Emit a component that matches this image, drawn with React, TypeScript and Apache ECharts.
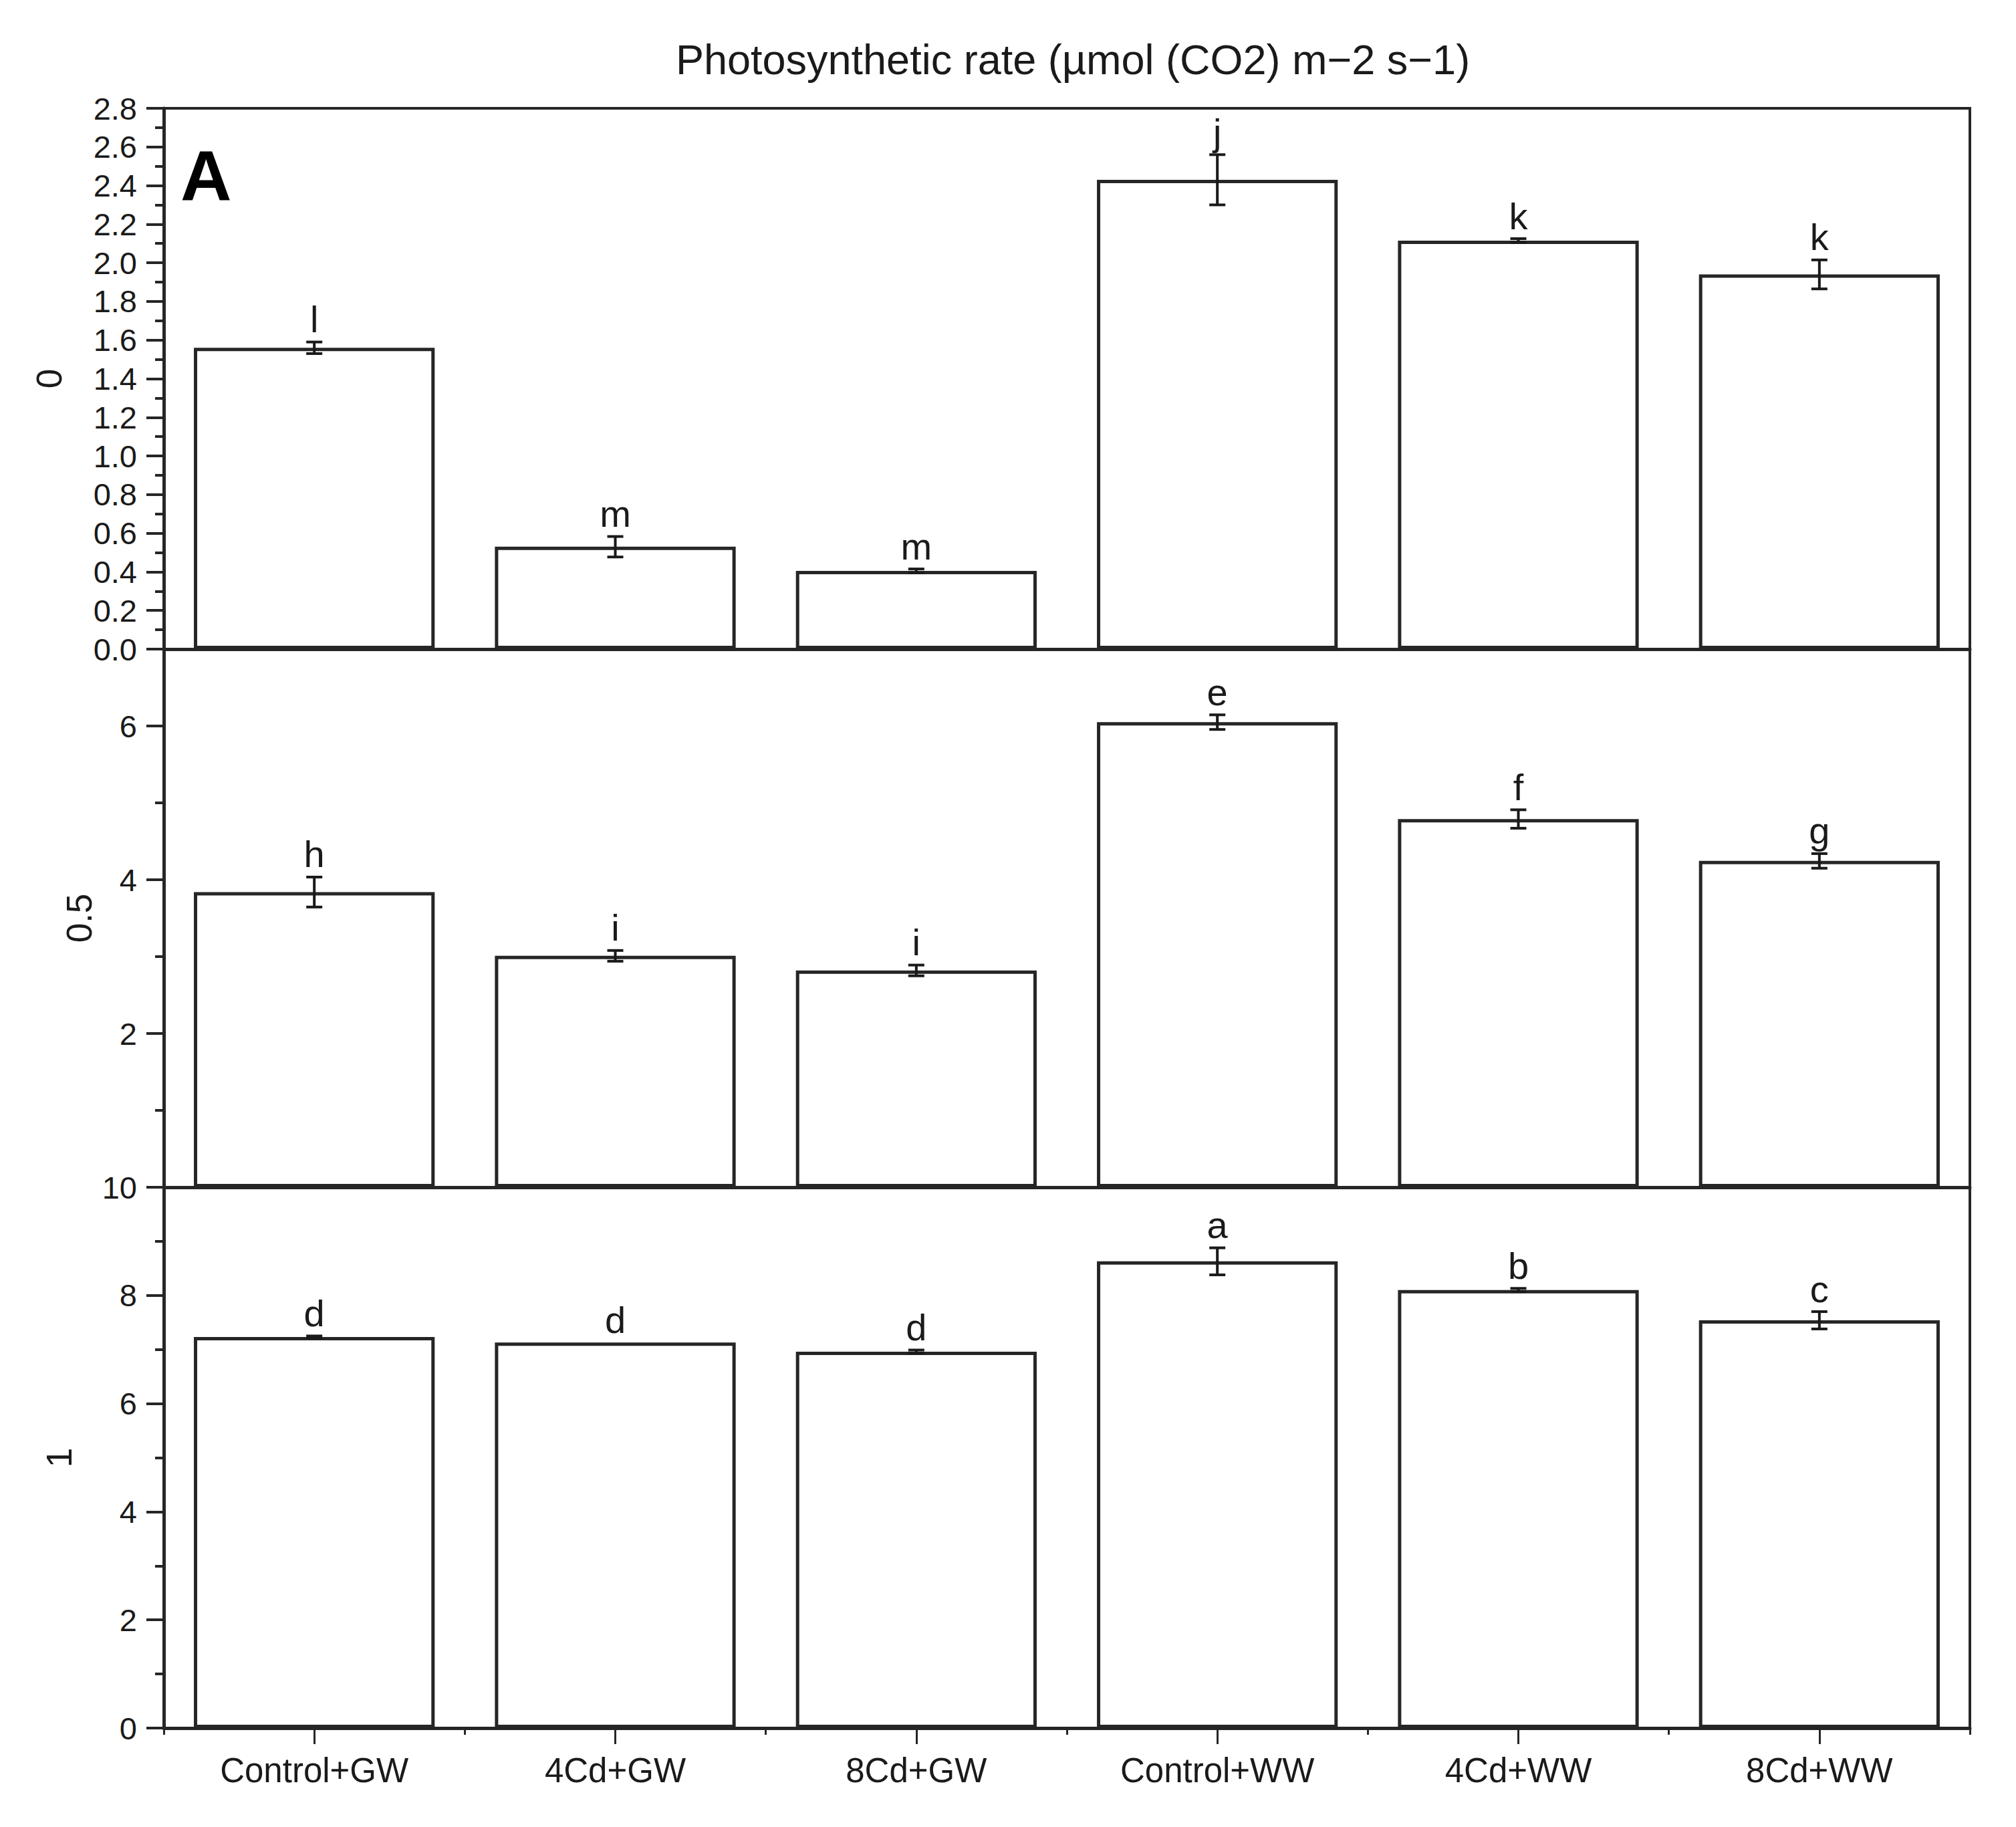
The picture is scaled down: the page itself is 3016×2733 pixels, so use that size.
import React, { useEffect, useRef } from "react";
import * as echarts from "echarts";

const categories = ["Control+GW", "4Cd+GW", "8Cd+GW", "Control+WW", "4Cd+WW", "8Cd+WW"];

const rate0 = [1.56, 0.53, 0.405, 2.43, 2.115, 1.94];
const err0 = [0.03, 0.053, 0.01, 0.13, 0.01, 0.075];
const letters0 = ["l", "m", "m", "j", "k", "k"];

const rate05 = [3.84, 3.01, 2.82, 6.05, 4.79, 4.245];
const err05 = [0.195, 0.07, 0.07, 0.095, 0.12, 0.095];
const letters05 = ["h", "i", "i", "e", "f", "g"];

const rate1 = [7.23, 7.13, 6.96, 8.63, 8.1, 7.54];
const err1 = [0.02, 0.0, 0.03, 0.25, 0.03, 0.16];
const letters1 = ["d", "d", "d", "a", "b", "c"];

const panelNames = ["0", "0.5", "1"];
const titleText = "Photosynthetic rate (\u00b5mol (CO2) m\u22122 s\u22121)";
const panelTag = "A";

const FONT = "'Liberation Sans', Arial, Helvetica, sans-serif";
const INK = "#262626";

export default function App() {
  const ref = useRef<HTMLDivElement>(null);

  useEffect(() => {
    document.body.style.margin = "0";
    const chart = echarts.init(ref.current!, undefined, { renderer: "svg" });

    const L = 245;
    const R = 3016 - 2947;
    const grids = [
      { top: 162, height: 809 },
      { top: 971, height: 805 },
      { top: 1776, height: 809 },
    ];

    const values = [rate0, rate05, rate1];
    const errs = [err0, err05, err1];
    const letters = [letters0, letters05, letters1];

    const grid = grids.map((g) => ({
      left: L,
      right: R,
      top: g.top,
      height: g.height,
      show: true,
      borderColor: INK,
      borderWidth: 4,
      backgroundColor: "transparent",
    }));

    const xAxis: any[] = [];
    for (let i = 0; i < 3; i++) {
      const bottom = i === 2;
      xAxis.push({
        type: "category",
        gridIndex: i,
        data: categories,
        boundaryGap: true,
        axisLine: { show: true, lineStyle: { color: INK, width: 5 } },
        axisTick: { show: bottom, alignWithLabel: true, length: 24, lineStyle: { color: INK, width: 3 } },
        axisLabel: {
          show: bottom,
          margin: 38,
          fontSize: 51,
          fontFamily: FONT,
          color: "#1a1a1a",
        },
        splitLine: { show: false },
      });
    }
    xAxis.push({
      type: "category",
      gridIndex: 2,
      data: categories,
      boundaryGap: true,
      position: "bottom",
      axisLine: { show: false },
      axisTick: { show: true, alignWithLabel: false, length: 10, lineStyle: { color: INK, width: 3 } },
      axisLabel: { show: false },
      splitLine: { show: false },
    });

    const labelFormatters = [
      (v: number) => v.toFixed(1),
      (v: number) => (v === 0 || v === 7 ? "" : String(v)),
      (v: number) => String(v),
    ];
    const ranges = [
      { max: 2.8, interval: 0.2, minor: 0.1 },
      { max: 7, interval: 2, minor: 1 },
      { max: 10, interval: 2, minor: 1 },
    ];
    const nameGaps = [145, 100, 130];

    const yAxis: any[] = [];
    for (let i = 0; i < 3; i++) {
      yAxis.push({
        type: "value",
        gridIndex: i,
        min: 0,
        max: ranges[i].max,
        interval: ranges[i].interval,
        name: panelNames[i],
        nameLocation: "middle",
        nameGap: nameGaps[i],
        nameTextStyle: { fontSize: 53, fontFamily: FONT, color: "#1a1a1a" },
        axisLine: { show: true, lineStyle: { color: INK, width: 5 } },
        axisTick: { show: true, inside: false, length: 26, lineStyle: { color: INK, width: 4 } },
        axisLabel: {
          show: true,
          margin: 40,
          fontSize: 47,
          fontFamily: FONT,
          color: "#1a1a1a",
          formatter: labelFormatters[i],
        },
        splitLine: { show: false },
      });
    }
    for (let i = 0; i < 3; i++) {
      yAxis.push({
        type: "value",
        gridIndex: i,
        min: 0,
        max: ranges[i].max,
        interval: ranges[i].minor,
        position: "left",
        axisLine: { show: false },
        axisTick: { show: true, inside: false, length: 13, lineStyle: { color: INK, width: 4 } },
        axisLabel: { show: false },
        splitLine: { show: false },
      });
    }

    const series: any[] = [];
    for (let i = 0; i < 3; i++) {
      series.push({
        type: "bar",
        xAxisIndex: i,
        yAxisIndex: i,
        data: values[i],
        barCategoryGap: "20%",
        itemStyle: { color: "#ffffff", borderColor: INK, borderWidth: 5 },
        silent: true,
        z: 2,
      });
      const vals = values[i];
      const es = errs[i];
      const ls = letters[i];
      series.push({
        type: "custom",
        xAxisIndex: i,
        yAxisIndex: i,
        data: vals.map((v, k) => [k, v, es[k]]),
        z: 5,
        silent: true,
        renderItem: (params: any, api: any) => {
          const k = params.dataIndex;
          const x = api.value(0);
          const v = api.value(1);
          const e = api.value(2);
          const top = api.coord([x, v + e]);
          const bot = api.coord([x, v - e]);
          const hw = 12;
          const st = { stroke: "#1a1a1a", lineWidth: 4 };
          const children: any[] = [];
          if (e > 0) {
            children.push({ type: "line", shape: { x1: top[0], y1: top[1], x2: bot[0], y2: bot[1] }, style: st });
            children.push({ type: "line", shape: { x1: top[0] - hw, y1: top[1], x2: top[0] + hw, y2: top[1] }, style: st });
            children.push({ type: "line", shape: { x1: bot[0] - hw, y1: bot[1], x2: bot[0] + hw, y2: bot[1] }, style: st });
          }
          children.push({
            type: "text",
            x: top[0],
            y: top[1] - 6,
            style: {
              text: ls[k],
              textAlign: "center",
              textVerticalAlign: "bottom",
              fontSize: 56,
              fontFamily: FONT,
              fill: "#1a1a1a",
            },
          });
          return { type: "group", children };
        },
      });
    }

    chart.setOption({
      animation: false,
      backgroundColor: "#ffffff",
      title: {
        text: titleText,
        left: 1600,
        top: 52,
        textAlign: "center",
        textStyle: { fontSize: 63, fontWeight: "normal", fontFamily: FONT, color: "#1a1a1a" },
      },
      grid,
      xAxis,
      yAxis,
      series,
      graphic: [
        {
          type: "text",
          left: 270,
          top: 210,
          style: {
            text: panelTag,
            fontSize: 106,
            fontWeight: "bold",
            fontFamily: FONT,
            fill: "#000000",
          },
        },
      ],
    });

    return () => chart.dispose();
  }, []);

  return <div ref={ref} style={{ width: 3016, height: 2733 }} />;
}
